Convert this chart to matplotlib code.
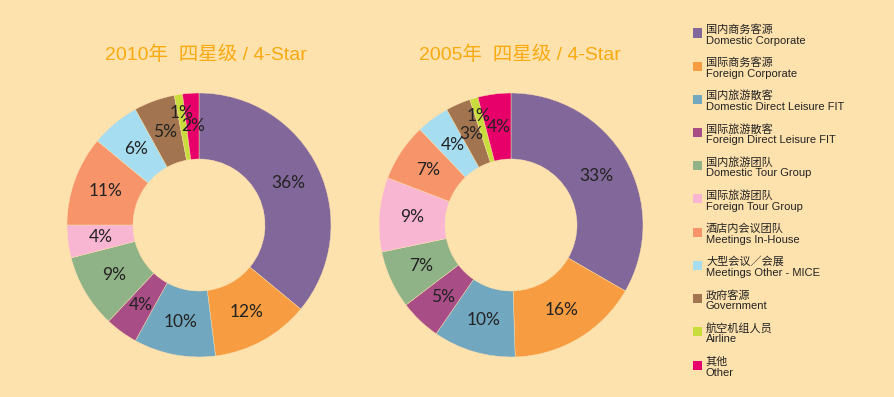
import numpy as np
import matplotlib.pyplot as plt
from matplotlib.patches import Rectangle

cats_cn = ["国内商务客源", "国际商务客源", "国内旅游散客", "国际旅游散客", "国内旅游团队",
           "国际旅游团队", "酒店内会议团队", "大型会议／会展", "政府客源", "航空机组人员", "其他"]
cats_en = ["Domestic Corporate", "Foreign Corporate", "Domestic Direct Leisure FIT",
           "Foreign Direct Leisure FIT", "Domestic Tour Group", "Foreign Tour Group",
           "Meetings In-House", "Meetings Other - MICE", "Government", "Airline", "Other"]
vals_2010 = [36, 12, 10, 4, 9, 4, 11, 6, 5, 1, 2]
vals_2005 = [33, 16, 10, 5, 7, 9, 7, 4, 3, 1, 4]
titles = ["2010年  四星级 / 4-Star", "2005年  四星级 / 4-Star"]

colors = ["#82689A", "#F79C40", "#72A7C0", "#A84D86", "#90B287", "#F9B6D2",
          "#F7946A", "#A6DDF0", "#A27550", "#C8DC3C", "#E8006A"]
bg = "#FEE2AE"

W, H = 895, 397
fig = plt.figure(figsize=(W / 100, H / 100), dpi=100, facecolor=bg)
title_font = ['Liberation Sans', 'Noto Sans CJK SC']

R = 132
for vals, title, cx, tx in [(vals_2010, titles[0], 199, 206), (vals_2005, titles[1], 511, 520)]:
    ax = fig.add_axes([(cx - R) / W, 1 - (225 + R) / H, 2 * R / W, 2 * R / H])
    ax.set_facecolor(bg)
    wedges, _ = ax.pie(vals, colors=colors, startangle=90, counterclock=False,
                       radius=1, wedgeprops=dict(width=0.5, edgecolor=bg, linewidth=0.3))
    ax.set_xlim(-1, 1)
    ax.set_ylim(-1, 1)
    ax.set_aspect('equal')
    ax.axis('off')
    for w, v in zip(wedges, vals):
        ang = np.deg2rad((w.theta1 + w.theta2) / 2)
        # the thin 1% slice has its label pushed outwards
        r = 0.86 if v == 1 else 0.75
        ax.text(r * np.cos(ang), r * np.sin(ang), f"{v}%", ha='center', va='center',
                fontsize=12.5, color='#222222', family='Lato')
    fig.text(tx / W, 1 - 55 / H, title, ha='center', va='center', fontsize=14,
             color='#F8AA10', family=title_font)

# legend
for i, (cn, en) in enumerate(zip(cats_cn, cats_en)):
    y = 33 + i * 33.2
    fig.patches.append(Rectangle((693 / W, 1 - (y + 4.5) / H), 9 / W, 9 / H,
                                 transform=fig.transFigure, facecolor=colors[i],
                                 edgecolor='none'))
    fig.text(706 / W, 1 - (y - 3.5) / H, cn, ha='left', va='center', fontsize=8,
             color='#222222', family=['Noto Sans CJK SC', 'DejaVu Sans'])
    fig.text(706 / W, 1 - (y + 7.5) / H, en, ha='left', va='center', fontsize=8,
             color='#222222', family=['Liberation Sans', 'DejaVu Sans'])

fig.savefig("out.png", dpi=100, facecolor=bg)
